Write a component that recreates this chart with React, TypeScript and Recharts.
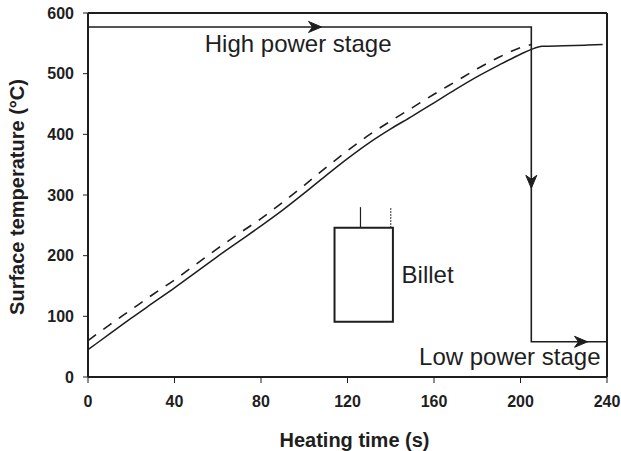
import { Line, LineChart, ReferenceArea, ReferenceDot, ReferenceLine, XAxis, YAxis } from "recharts";

const times = [0, 10, 20, 30, 40, 50, 60, 70, 80, 90, 100, 110, 120, 130, 140, 150, 160, 170, 180, 190, 200, 205, 210, 220, 230, 238];
const measured = [45, 71, 97, 122, 147, 173, 199, 224, 249, 275, 303, 332, 360, 386, 409, 430, 452, 474, 495, 514, 532, 540, 545, 546, 547, 548];
const predicted = [60, 86, 111, 136, 160, 186, 212, 237, 261, 288, 316, 345, 373, 399, 422, 444, 466, 487, 508, 527, 543, 548, null, null, null, null];

// power switching path: high stage until 205 s, then low stage
const stageTimes = [0, 205, 205, 240];
const stageTemps = [577, 577, 58, 58];

const xTicks = [0, 40, 80, 120, 160, 200, 240];
const yTicks = [0, 100, 200, 300, 400, 500, 600];

const INK = "#1e1e1e";
const FONT = "'Liberation Sans', Arial, sans-serif";

const curveData = times.map((t, i) => ({ t, measured: measured[i], predicted: predicted[i] }));
const stageData = stageTimes.map((t, i) => ({ t, temp: stageTemps[i] }));

function Arrow({ cx, cy, dir }: { cx?: number; cy?: number; dir: "right" | "down" }) {
	if (cx == null || cy == null) return null;
	const rot = dir === "down" ? 90 : 0;
	return (
		<path
			d="M0,0 L-13,-5.5 L-9,0 L-13,5.5 Z"
			transform={`translate(${cx},${cy}) rotate(${rot})`}
			fill={INK}
			stroke={INK}
			strokeWidth={1}
		/>
	);
}

function Note({ cx, cy, text, anchor = "start" }: { cx?: number; cy?: number; text: string; anchor?: "start" | "end" }) {
	if (cx == null || cy == null) return null;
	return (
		<text x={cx} y={cy} textAnchor={anchor} fontFamily={FONT} fontSize={24} fill={INK}>
			{text}
		</text>
	);
}

function XTitle({ viewBox }: any) {
	const { x, width } = viewBox;
	return (
		<text x={x + width / 2 + 7} y={447} textAnchor="middle" fontFamily={FONT} fontWeight="bold" fontSize={20} fill={INK}>
			Heating time (s)
		</text>
	);
}

function YTitle() {
	return (
		<text
			x={24}
			y={197}
			transform="rotate(-90, 24, 197)"
			textAnchor="middle"
			fontFamily={FONT}
			fontWeight="bold"
			fontSize={20}
			fill={INK}
		>
			Surface temperature (°C)
		</text>
	);
}

const tickStyle = { fontFamily: FONT, fontWeight: "bold", fontSize: 16, fill: INK };

export default function App() {
	return (
		<div style={{ position: "absolute", left: 0, top: 0, background: "#fff" }}>
			<LineChart width={621} height={451} data={curveData} margin={{ top: 13, right: 14, left: 0, bottom: 0 }}>
				<XAxis
					dataKey="t"
					type="number"
					domain={[0, 240]}
					ticks={xTicks}
					height={74}
					tickSize={6}
					tickMargin={13}
					tick={tickStyle}
					axisLine={{ stroke: INK, strokeWidth: 2 }}
					tickLine={{ stroke: INK, strokeWidth: 1 }}
					label={<XTitle />}
				/>
				<YAxis
					type="number"
					domain={[0, 600]}
					ticks={yTicks}
					width={88}
					tickSize={5}
					tickMargin={9}
					tick={tickStyle}
					axisLine={{ stroke: INK, strokeWidth: 2 }}
					tickLine={{ stroke: INK, strokeWidth: 1 }}
					label={<YTitle />}
				/>
				<ReferenceLine y={600} stroke={INK} strokeWidth={2} />
				<ReferenceLine x={240} stroke={INK} strokeWidth={2} />

				<Line
					dataKey="predicted"
					type="monotone"
					stroke={INK}
					strokeWidth={1.6}
					strokeDasharray="10 9"
					dot={false}
					isAnimationActive={false}
				/>
				<Line dataKey="measured" type="monotone" stroke={INK} strokeWidth={1.5} dot={false} isAnimationActive={false} />
				<Line
					data={stageData}
					dataKey="temp"
					type="linear"
					stroke={INK}
					strokeWidth={1.6}
					dot={false}
					isAnimationActive={false}
				/>

				<ReferenceDot x={108} y={577} r={0} shape={(p: any) => <Arrow cx={p.cx} cy={p.cy} dir="right" />} />
				<ReferenceDot x={205} y={311} r={0} shape={(p: any) => <Arrow cx={p.cx} cy={p.cy} dir="down" />} />
				<ReferenceDot x={231} y={58} r={0} shape={(p: any) => <Arrow cx={p.cx} cy={p.cy} dir="right" />} />

				{/* billet sketch */}
				<ReferenceArea x1={114} x2={141} y1={91} y2={246} fill="none" fillOpacity={0} stroke={INK} strokeWidth={2} />
				<ReferenceLine segment={[{ x: 126, y: 246 }, { x: 126, y: 280 }]} stroke={INK} strokeWidth={1.2} />
				<ReferenceLine
					segment={[{ x: 140, y: 246 }, { x: 140, y: 280 }]}
					stroke={INK}
					strokeWidth={1.2}
					strokeDasharray="1.5 1.5"
				/>

				<ReferenceDot x={54} y={536} r={0} shape={(p: any) => <Note cx={p.cx} cy={p.cy} text="High power stage" />} />
				<ReferenceDot x={237} y={20} r={0} shape={(p: any) => <Note cx={p.cx} cy={p.cy} text="Low power stage" anchor="end" />} />
				<ReferenceDot x={145} y={155} r={0} shape={(p: any) => <Note cx={p.cx} cy={p.cy} text="Billet" />} />
			</LineChart>
		</div>
	);
}
